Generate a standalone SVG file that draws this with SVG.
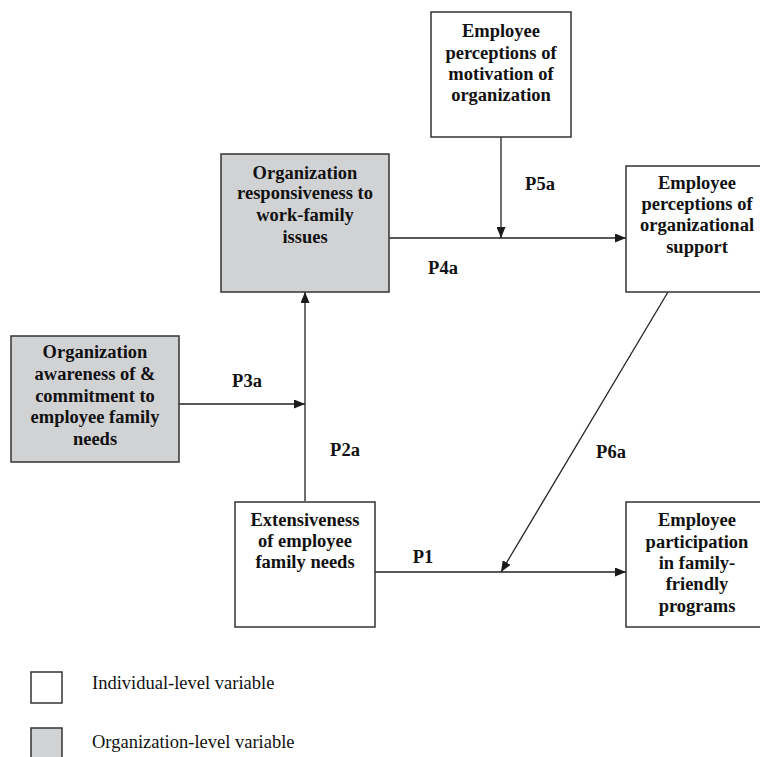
<svg xmlns="http://www.w3.org/2000/svg" width="760" height="757" viewBox="0 0 760 757">
<defs>
<marker id="ah" markerWidth="11" markerHeight="9" refX="11" refY="4.5" orient="auto" markerUnits="userSpaceOnUse">
<path d="M0,0 L11,4.5 L0,9 Z" fill="#1a1a1a"/>
</marker>
</defs>
<style>
.box{fill:#fff;stroke:#333;stroke-width:1.5}
.org{fill:#d1d2d4;stroke:#333;stroke-width:1.5}
text{font-family:'Liberation Serif','DejaVu Serif',serif;font-size:18.5px;fill:#111}
.t{font-weight:bold;text-anchor:middle}
.lab{font-weight:bold;text-anchor:middle}
.c{stroke:#222;stroke-width:1.3;fill:none}
</style>
<rect width="760" height="757" fill="#fff"/>
<g id="connectors">
<line class="c" x1="501" y1="137" x2="501" y2="238" marker-end="url(#ah)"/>
<line class="c" x1="389" y1="238" x2="626" y2="238" marker-end="url(#ah)"/>
<line class="c" x1="305" y1="501" x2="305" y2="292" marker-end="url(#ah)"/>
<line class="c" x1="179" y1="404" x2="305" y2="404" marker-end="url(#ah)"/>
<line class="c" x1="375" y1="572" x2="626" y2="572" marker-end="url(#ah)"/>
<line class="c" x1="668" y1="292" x2="501" y2="572" marker-end="url(#ah)"/>
<text class="lab" x="540" y="190">P5a</text>
<text class="lab" x="443" y="274">P4a</text>
<text class="lab" x="247" y="387">P3a</text>
<text class="lab" x="345" y="456">P2a</text>
<text class="lab" x="423" y="563">P1</text>
<text class="lab" x="611" y="458">P6a</text>
</g>
<g id="motivation">
<rect class="box" x="431" y="12" width="140" height="125"/>
<text class="t" x="501" y="37">Employee</text>
<text class="t" x="501" y="59">perceptions of</text>
<text class="t" x="501" y="80">motivation of</text>
<text class="t" x="501" y="101">organization</text>
</g>
<g id="support">
<rect class="box" x="626" y="166" width="142" height="126"/>
<text class="t" x="697" y="189">Employee</text>
<text class="t" x="697" y="210">perceptions of</text>
<text class="t" x="697" y="231">organizational</text>
<text class="t" x="697" y="253">support</text>
</g>
<g id="responsiveness">
<rect class="org" x="221" y="154" width="168" height="138"/>
<text class="t" x="305" y="179">Organization</text>
<text class="t" x="305" y="199">responsiveness to</text>
<text class="t" x="305" y="221">work-family</text>
<text class="t" x="305" y="243">issues</text>
</g>
<g id="awareness">
<rect class="org" x="11" y="336" width="168" height="126"/>
<text class="t" x="95" y="358">Organization</text>
<text class="t" x="95" y="380">awareness of &amp;</text>
<text class="t" x="95" y="402">commitment to</text>
<text class="t" x="95" y="423">employee family</text>
<text class="t" x="95" y="445">needs</text>
</g>
<g id="extensiveness">
<rect class="box" x="235" y="502" width="140" height="125"/>
<text class="t" x="305" y="526">Extensiveness</text>
<text class="t" x="305" y="547">of employee</text>
<text class="t" x="305" y="568">family needs</text>
</g>
<g id="participation">
<rect class="box" x="626" y="502" width="142" height="125"/>
<text class="t" x="697" y="526">Employee</text>
<text class="t" x="697" y="548">participation</text>
<text class="t" x="697" y="569">in family-</text>
<text class="t" x="697" y="590">friendly</text>
<text class="t" x="697" y="612">programs</text>
</g>
<g id="legend">
<rect class="box" x="31" y="672" width="31" height="31"/>
<text x="92" y="689">Individual-level variable</text>
<rect class="org" x="31" y="728" width="31" height="34"/>
<text x="92" y="748">Organization-level variable</text>
</g>
</svg>
